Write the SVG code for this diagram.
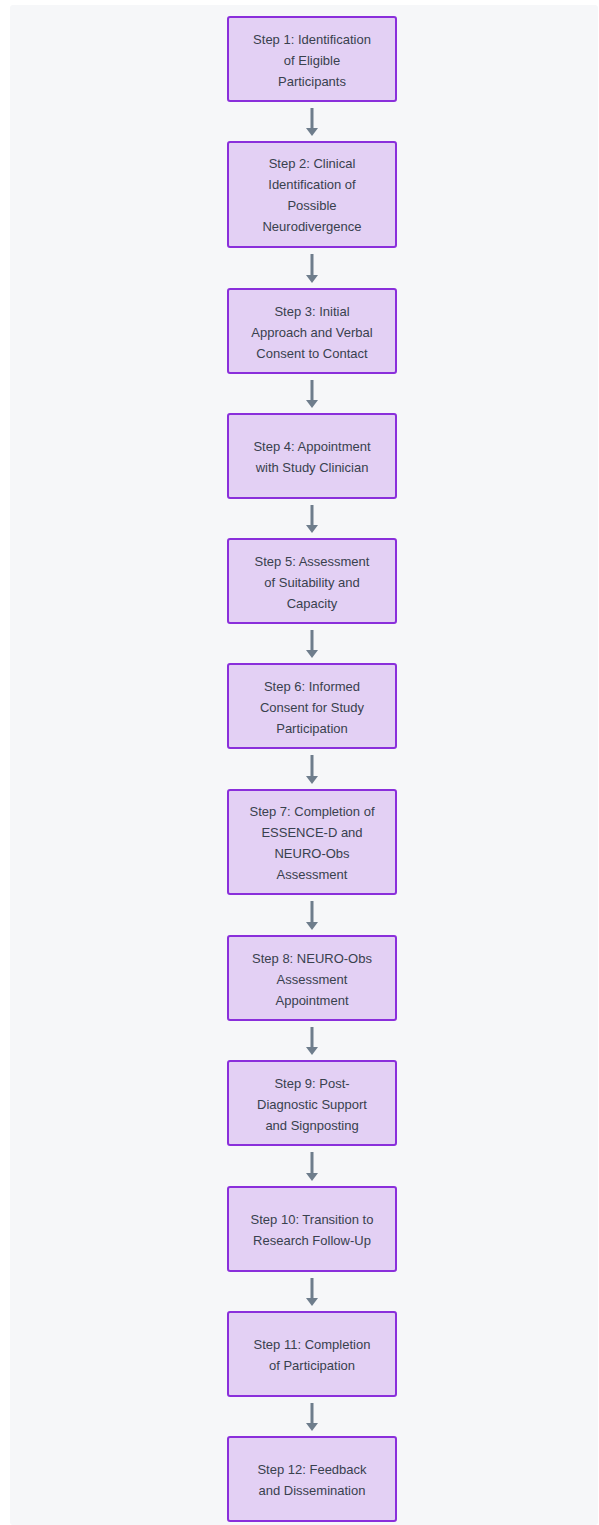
<svg xmlns="http://www.w3.org/2000/svg" width="599" height="1525" viewBox="0 0 599 1525">
<defs>
<style>
.bg{fill:#f6f7f9}
.box{fill:#e3d0f4;stroke:#8a2fdb;stroke-width:2}
.t{font-family:"Liberation Sans",Arial,sans-serif;font-size:13px;fill:#39414e;text-anchor:middle}
.c{stroke:#6e7d8c;stroke-width:3;fill:none}
.h{fill:#6e7d8c}
</style>
</defs>
<rect x="0" y="0" width="599" height="1525" fill="#ffffff"/>
<rect class="bg" x="10" y="5" width="588" height="1520" rx="3"/>
<g id="connectors">
<line class="c" x1="312" y1="108" x2="312" y2="129"/><path class="h" d="M306 128 L318 128 L312 136 Z"/>
<line class="c" x1="312" y1="254" x2="312" y2="276"/><path class="h" d="M306 275 L318 275 L312 283 Z"/>
<line class="c" x1="312" y1="380" x2="312" y2="401"/><path class="h" d="M306 400 L318 400 L312 408 Z"/>
<line class="c" x1="312" y1="505" x2="312" y2="526"/><path class="h" d="M306 525 L318 525 L312 533 Z"/>
<line class="c" x1="312" y1="630" x2="312" y2="651"/><path class="h" d="M306 650 L318 650 L312 658 Z"/>
<line class="c" x1="312" y1="755" x2="312" y2="777"/><path class="h" d="M306 776 L318 776 L312 784 Z"/>
<line class="c" x1="312" y1="901" x2="312" y2="923"/><path class="h" d="M306 922 L318 922 L312 930 Z"/>
<line class="c" x1="312" y1="1027" x2="312" y2="1048"/><path class="h" d="M306 1047 L318 1047 L312 1055 Z"/>
<line class="c" x1="312" y1="1152" x2="312" y2="1174"/><path class="h" d="M306 1173 L318 1173 L312 1181 Z"/>
<line class="c" x1="312" y1="1278" x2="312" y2="1299"/><path class="h" d="M306 1298 L318 1298 L312 1306 Z"/>
<line class="c" x1="312" y1="1403" x2="312" y2="1424"/><path class="h" d="M306 1423 L318 1423 L312 1431 Z"/>
</g>
<g id="step1"><rect class="box" x="228" y="17" width="168" height="84" rx="2"/>
<text class="t" x="312" y="44">Step 1: Identification</text><text class="t" x="312" y="65">of Eligible</text><text class="t" x="312" y="86">Participants</text></g>
<g id="step2"><rect class="box" x="228" y="142" width="168" height="105" rx="2"/>
<text class="t" x="312" y="168">Step 2: Clinical</text><text class="t" x="312" y="189">Identification of</text><text class="t" x="312" y="210">Possible</text><text class="t" x="312" y="231">Neurodivergence</text></g>
<g id="step3"><rect class="box" x="228" y="289" width="168" height="84" rx="2"/>
<text class="t" x="312" y="316">Step 3: Initial</text><text class="t" x="312" y="337">Approach and Verbal</text><text class="t" x="312" y="358">Consent to Contact</text></g>
<g id="step4"><rect class="box" x="228" y="414" width="168" height="84" rx="2"/>
<text class="t" x="312" y="451">Step 4: Appointment</text><text class="t" x="312" y="472">with Study Clinician</text></g>
<g id="step5"><rect class="box" x="228" y="539" width="168" height="84" rx="2"/>
<text class="t" x="312" y="566">Step 5: Assessment</text><text class="t" x="312" y="587">of Suitability and</text><text class="t" x="312" y="608">Capacity</text></g>
<g id="step6"><rect class="box" x="228" y="664" width="168" height="84" rx="2"/>
<text class="t" x="312" y="691">Step 6: Informed</text><text class="t" x="312" y="712">Consent for Study</text><text class="t" x="312" y="733">Participation</text></g>
<g id="step7"><rect class="box" x="228" y="790" width="168" height="104" rx="2"/>
<text class="t" x="312" y="816">Step 7: Completion of</text><text class="t" x="312" y="837">ESSENCE-D and</text><text class="t" x="312" y="858">NEURO-Obs</text><text class="t" x="312" y="879">Assessment</text></g>
<g id="step8"><rect class="box" x="228" y="936" width="168" height="84" rx="2"/>
<text class="t" x="312" y="963">Step 8: NEURO-Obs</text><text class="t" x="312" y="984">Assessment</text><text class="t" x="312" y="1005">Appointment</text></g>
<g id="step9"><rect class="box" x="228" y="1061" width="168" height="84" rx="2"/>
<text class="t" x="312" y="1088">Step 9: Post-</text><text class="t" x="312" y="1109">Diagnostic Support</text><text class="t" x="312" y="1130">and Signposting</text></g>
<g id="step10"><rect class="box" x="228" y="1187" width="168" height="84" rx="2"/>
<text class="t" x="312" y="1224">Step 10: Transition to</text><text class="t" x="312" y="1245">Research Follow-Up</text></g>
<g id="step11"><rect class="box" x="228" y="1312" width="168" height="84" rx="2"/>
<text class="t" x="312" y="1349">Step 11: Completion</text><text class="t" x="312" y="1370">of Participation</text></g>
<g id="step12"><rect class="box" x="228" y="1437" width="168" height="84" rx="2"/>
<text class="t" x="312" y="1474">Step 12: Feedback</text><text class="t" x="312" y="1495">and Dissemination</text></g>
</svg>
